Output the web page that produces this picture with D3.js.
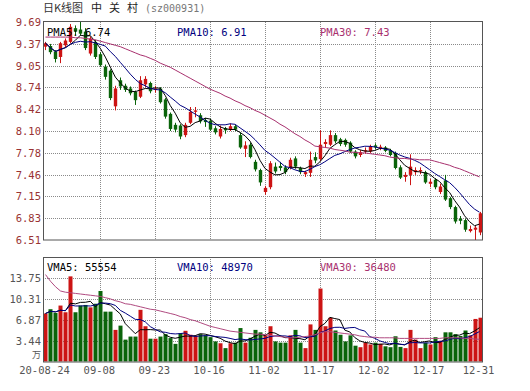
<!DOCTYPE html>
<html>
<head>
<meta charset="utf-8">
<script src="https://cdn.jsdelivr.net/npm/d3@7"></script>
<style>
body { margin: 0; background: #fff; }
svg { display: block; }
text { font-family: "DejaVu Sans Mono", monospace; }
</style>
</head>
<body>
<svg width="530" height="391"></svg>
<script>
// trading days shown (MM-DD)
const dates = ["08-24","08-25","08-26","08-27","08-28","08-31",
  "09-01","09-02","09-03","09-04","09-07","09-08","09-09","09-10","09-11","09-14","09-15","09-16","09-17","09-18","09-21","09-22","09-23","09-24","09-25","09-28","09-29","09-30",
  "10-09","10-12","10-13","10-14","10-15","10-16","10-19","10-20","10-21","10-22","10-23","10-26","10-27","10-28","10-29","10-30",
  "11-02","11-03","11-04","11-05","11-06","11-09","11-10","11-11","11-12","11-13","11-16","11-17","11-18","11-19","11-20","11-23","11-24","11-25","11-26","11-27","11-30",
  "12-01","12-02","12-03","12-04","12-07","12-08","12-09","12-10","12-11","12-14","12-15","12-16","12-17","12-18","12-21","12-22","12-23","12-24","12-25","12-28","12-29","12-30","12-31"];

const open = [9.33,9.34,9.26,9.18,9.35,9.40,9.60,9.58,9.55,9.23,9.40,9.22,9.04,8.98,8.46,8.84,8.76,8.72,8.67,8.60,8.78,8.80,
  8.70,8.72,8.56,8.35,8.19,8.18,8.04,8.22,8.38,8.33,8.26,8.25,8.14,8.02,8.14,8.12,8.17,8.04,7.84,7.90,7.65,7.53,
  7.21,7.28,7.58,7.59,7.57,7.56,7.70,7.56,7.47,7.49,7.72,7.69,7.91,7.90,8.04,7.98,7.97,7.93,7.80,7.75,7.80,
  7.80,7.89,7.84,7.86,7.82,7.78,7.57,7.43,7.46,7.50,7.51,7.50,7.33,7.39,7.21,7.38,7.12,6.99,6.82,6.80,6.64,6.66,6.62];
const high = [9.40,9.37,9.28,9.40,9.45,9.66,9.64,9.69,9.60,9.48,9.43,9.25,9.07,9.00,8.76,8.88,8.79,8.75,8.69,8.90,8.90,8.82,
  8.76,8.74,8.58,8.37,8.22,8.20,8.22,8.45,8.45,8.36,8.29,8.28,8.17,8.18,8.16,8.21,8.19,8.08,7.95,7.93,7.68,7.55,
  7.30,7.66,7.64,7.65,7.60,7.71,7.73,7.58,7.52,7.80,7.79,8.11,7.98,8.11,8.07,8.00,7.99,7.95,7.82,7.82,7.86,
  7.90,7.92,7.90,7.88,7.84,7.80,7.60,7.50,7.76,7.57,7.57,7.52,7.40,7.41,7.33,7.46,7.14,7.01,6.86,6.82,6.72,6.72,6.92];
const low = [9.28,9.22,9.10,9.09,9.32,9.38,9.50,9.49,9.28,9.20,9.15,9.04,8.85,8.55,8.40,8.70,8.67,8.62,8.48,8.58,8.74,8.65,
  8.66,8.50,8.28,8.10,8.08,7.98,8.01,8.20,8.30,8.21,8.16,8.10,8.05,7.99,8.06,8.10,8.10,7.84,7.72,7.70,7.51,7.30,
  7.17,7.25,7.48,7.52,7.47,7.54,7.55,7.47,7.43,7.43,7.63,7.66,7.86,7.88,7.92,7.88,7.87,7.78,7.70,7.72,7.77,
  7.78,7.83,7.82,7.79,7.73,7.54,7.40,7.36,7.31,7.46,7.47,7.33,7.28,7.25,7.18,7.08,6.96,6.75,6.74,6.63,6.62,6.51,6.58];
const close = [9.38,9.25,9.15,9.38,9.42,9.62,9.55,9.52,9.31,9.45,9.18,9.06,8.89,8.58,8.72,8.75,8.70,8.65,8.55,8.84,8.86,8.68,
  8.72,8.52,8.31,8.13,8.12,8.02,8.19,8.38,8.40,8.24,8.23,8.12,8.08,8.13,8.11,8.17,8.12,7.86,7.89,7.72,7.54,7.35,
  7.27,7.63,7.51,7.56,7.50,7.68,7.58,7.50,7.50,7.68,7.67,7.90,7.94,8.04,7.95,7.91,7.90,7.80,7.73,7.79,7.82,
  7.88,7.86,7.87,7.81,7.75,7.56,7.42,7.46,7.58,7.53,7.53,7.35,7.36,7.28,7.29,7.10,6.99,6.78,6.79,6.66,6.67,6.69,6.90];
// volume, 万手
const volume = [7.9,8.6,8.0,9.2,8.1,14.0,8.1,9.2,9.3,8.9,9.5,11.6,8.2,8.2,5.2,5.9,3.6,4.1,4.1,8.5,5.8,3.75,
  3.75,4.1,4.5,3.85,2.9,4.65,5.05,4.4,4.25,4.5,4.3,4.0,3.3,3.0,2.2,3.0,3.1,5.5,3.1,3.9,5.2,4.8,
  4.3,5.8,3.3,3.1,3.1,4.3,5.2,3.1,2.2,6.1,5.2,12.0,5.8,7.2,5.1,4.4,3.3,4.3,2.6,2.35,3.1,
  2.8,3.1,2.9,2.5,2.35,4.15,2.4,2.2,5.2,3.6,2.2,3.1,2.8,4.0,3.4,4.8,4.8,4.5,4.2,5.1,4.3,7.0,7.2];
// 30-day averages as drawn (they reach back before the window)
const pma30 = [9.47,9.47,9.47,9.47,9.47,9.47,9.46,9.46,9.45,9.44,9.43,
  9.41,9.39,9.37,9.35,9.33,9.30,9.27,9.24,9.21,9.19,9.16,
  9.13,9.09,9.06,9.03,8.99,8.95,8.91,8.87,8.83,8.79,8.75,8.71,
  8.68,8.65,8.61,8.58,8.54,8.51,8.47,8.44,8.40,8.37,8.33,
  8.29,8.25,8.20,8.16,8.11,8.06,8.02,7.97,7.93,7.88,
  7.87,7.86,7.85,7.83,7.82,7.81,7.79,7.79,7.78,7.78,
  7.77,7.76,7.75,7.74,7.72,7.71,7.70,7.70,7.69,7.69,7.68,7.68,7.68,
  7.66,7.64,7.62,7.60,7.57,7.55,7.52,7.49,7.46,7.43];
const vma30 = [14.3,13.2,12.3,11.6,11.4,11.3,11.2,11.1,11.0,10.9,10.8,
  10.7,10.5,10.3,10.0,9.8,9.5,9.4,9.2,9.0,8.8,8.6,
  8.5,8.3,8.1,7.9,7.7,7.4,7.2,6.9,6.7,6.4,6.1,5.8,
  5.6,5.4,5.2,5.0,4.9,4.8,4.7,4.6,4.5,4.5,4.4,
  4.3,4.2,4.1,4.0,3.9,3.9,4.0,4.1,4.2,4.4,
  4.7,4.9,4.9,4.8,4.7,4.6,4.5,4.4,4.2,4.1,
  4.0,4.0,3.9,3.9,3.9,3.9,3.8,3.8,3.8,3.8,3.8,3.8,3.8,
  3.8,3.8,3.9,3.9,3.9,3.9,3.8,3.8,3.7,3.65];

const priceTicks = [6.51,6.83,7.15,7.46,7.78,8.10,8.42,8.74,9.05,9.37,9.69];
const volTicks = [3.44,6.87,10.31,13.75];
const tickDays = ["08-24","09-08","09-23","10-16","11-02","11-17","12-02","12-17","12-31"];
const tickText = ["20-08-24","09-08","09-23","10-16","11-02","11-17","12-02","12-17","12-31"];
const nameChars = ["中","关","村"];
const pmaText = ["PMA5: 6.74","PMA10: 6.91","PMA30: 7.43"];
const vmaText = ["VMA5: 55554","VMA10: 48970","VMA30: 36480"];

const RED = "#cc1414", GREEN = "#0a640a";
const L = 43, R = 482;
const pTop = 22, pBot = 240, vTop = 257, vBot = 361.5;

var svg = d3.select("svg");

const x = d3.scaleBand().domain(d3.range(dates.length)).range([L, R]);
const cx = i => x(i) + x.bandwidth() / 2;
const yP = d3.scaleLinear().domain([6.51, 9.69]).range([pBot, pTop]);
const yV = d3.scaleLinear().domain([0, 17.1875]).range([vBot, vTop]);

function ma(arr, n) {
    return arr.map((d, i) => d3.mean(arr.slice(Math.max(0, i - n + 1), i + 1)));
}

// title
svg.append("text").attr("x", 43).attr("y", 12).attr("font-size", 11).attr("fill", "#333")
    .style("font-family", "'Noto Sans CJK SC'").text("日K线图");
nameChars.forEach((c, i) => svg.append("text").attr("x", 91 + i * 18).attr("y", 12)
    .attr("font-size", 11).attr("fill", "#222")
    .style("font-family", "'Noto Sans CJK SC'").text(c));
svg.append("text").attr("x", 145).attr("y", 12).attr("font-size", 10).attr("fill", "#777")
    .text("(sz000931)");

// grids
var grid = svg.append("g").attr("stroke", "#8a8a8a").attr("stroke-dasharray", "1,1");
priceTicks.slice(1, -1).forEach(t => {
    let y = Math.round(yP(t)) + 0.5;
    grid.append("line").attr("x1", L).attr("x2", R).attr("y1", y).attr("y2", y);
});
volTicks.forEach(t => {
    let y = Math.round(yV(t)) + 0.5;
    grid.append("line").attr("x1", L).attr("x2", R).attr("y1", y).attr("y2", y);
});
tickDays.slice(1, -1).forEach(d => {
    let xx = Math.round(cx(dates.indexOf(d))) + 0.5;
    grid.append("line").attr("x1", xx).attr("x2", xx).attr("y1", pTop).attr("y2", pBot);
    grid.append("line").attr("x1", xx).attr("x2", xx).attr("y1", vTop).attr("y2", vBot);
});

// candles
var bw = 3.4;
var candles = svg.append("g");
close.forEach((c, i) => {
    let up = c >= open[i];
    let col = up ? RED : GREEN;
    let xx = Math.round(cx(i)) + 0.5;
    candles.append("line").attr("x1", xx).attr("x2", xx)
        .attr("y1", yP(high[i])).attr("y2", yP(low[i]))
        .attr("stroke", col);
    let top = yP(Math.max(c, open[i])), bot = yP(Math.min(c, open[i]));
    candles.append("rect").attr("x", xx - bw / 2).attr("width", bw)
        .attr("y", top).attr("height", Math.max(1, bot - top))
        .attr("fill", col);
});

// volume bars
svg.append("g").selectAll("rect")
    .data(volume)
    .enter()
    .append("rect")
    .attr("x", (d, i) => Math.round(cx(i)) - 1.5)
    .attr("width", 4)
    .attr("y", d => yV(d))
    .attr("height", d => vBot - yV(d))
    .attr("fill", (d, i) => close[i] >= open[i] ? RED : GREEN);

// moving averages
const pLine = d3.line().x((d, i) => cx(i)).y(d => yP(d));
const vLine = d3.line().x((d, i) => cx(i)).y(d => yV(d));
[[ma(close, 5), "#000"], [ma(close, 10), "#000080"], [pma30, "#a8306e"]].forEach(s => {
    svg.append("path").attr("d", pLine(s[0])).attr("fill", "none").attr("stroke", s[1]).attr("stroke-width", 1);
});
[[ma(volume, 5), "#000"], [ma(volume, 10), "#000080"], [vma30, "#b04a80"]].forEach(s => {
    svg.append("path").attr("d", vLine(s[0])).attr("fill", "none").attr("stroke", s[1]).attr("stroke-width", 1);
});

// borders
svg.append("rect").attr("x", L + 0.5).attr("y", pTop - 0.5).attr("width", R - L).attr("height", pBot - pTop + 0.5)
    .attr("fill", "none").attr("stroke", "#555");
svg.append("rect").attr("x", L + 0.5).attr("y", vTop + 0.5).attr("width", R - L).attr("height", vBot - vTop)
    .attr("fill", "none").attr("stroke", "#555");

// axis labels
svg.append("g").selectAll("text")
    .data(priceTicks)
    .enter()
    .append("text")
    .attr("x", 41).attr("y", d => yP(d) + 4)
    .attr("text-anchor", "end").attr("font-size", 10.5).attr("fill", "#993333")
    .text(d => d.toFixed(2));
svg.append("g").selectAll("text")
    .data(volTicks)
    .enter()
    .append("text")
    .attr("x", 41).attr("y", d => yV(d) + 4)
    .attr("text-anchor", "end").attr("font-size", 10.5).attr("fill", "#555")
    .text(d => d.toFixed(2));
svg.append("text").attr("x", 41).attr("y", 358).attr("text-anchor", "end")
    .attr("font-size", 9).attr("fill", "#555").style("font-family", "'Noto Sans CJK SC'").text("万");
svg.append("g").selectAll("text")
    .data(tickDays)
    .enter()
    .append("text")
    .attr("x", d => cx(dates.indexOf(d)) - 1).attr("y", 374)
    .attr("text-anchor", "middle").attr("font-size", 10.5).attr("fill", "#555")
    .text((d, i) => tickText[i]);

// legends
const legX = [47, 177, 320], legCol = ["#000", "#000080", "#a8306e"];
pmaText.forEach((t, i) => svg.append("text").attr("x", legX[i]).attr("y", 36)
    .attr("font-size", 10.5).attr("fill", legCol[i]).text(t));
vmaText.forEach((t, i) => svg.append("text").attr("x", legX[i]).attr("y", 271)
    .attr("font-size", 10.5).attr("fill", legCol[i]).text(t));
</script>
</body>
</html>
